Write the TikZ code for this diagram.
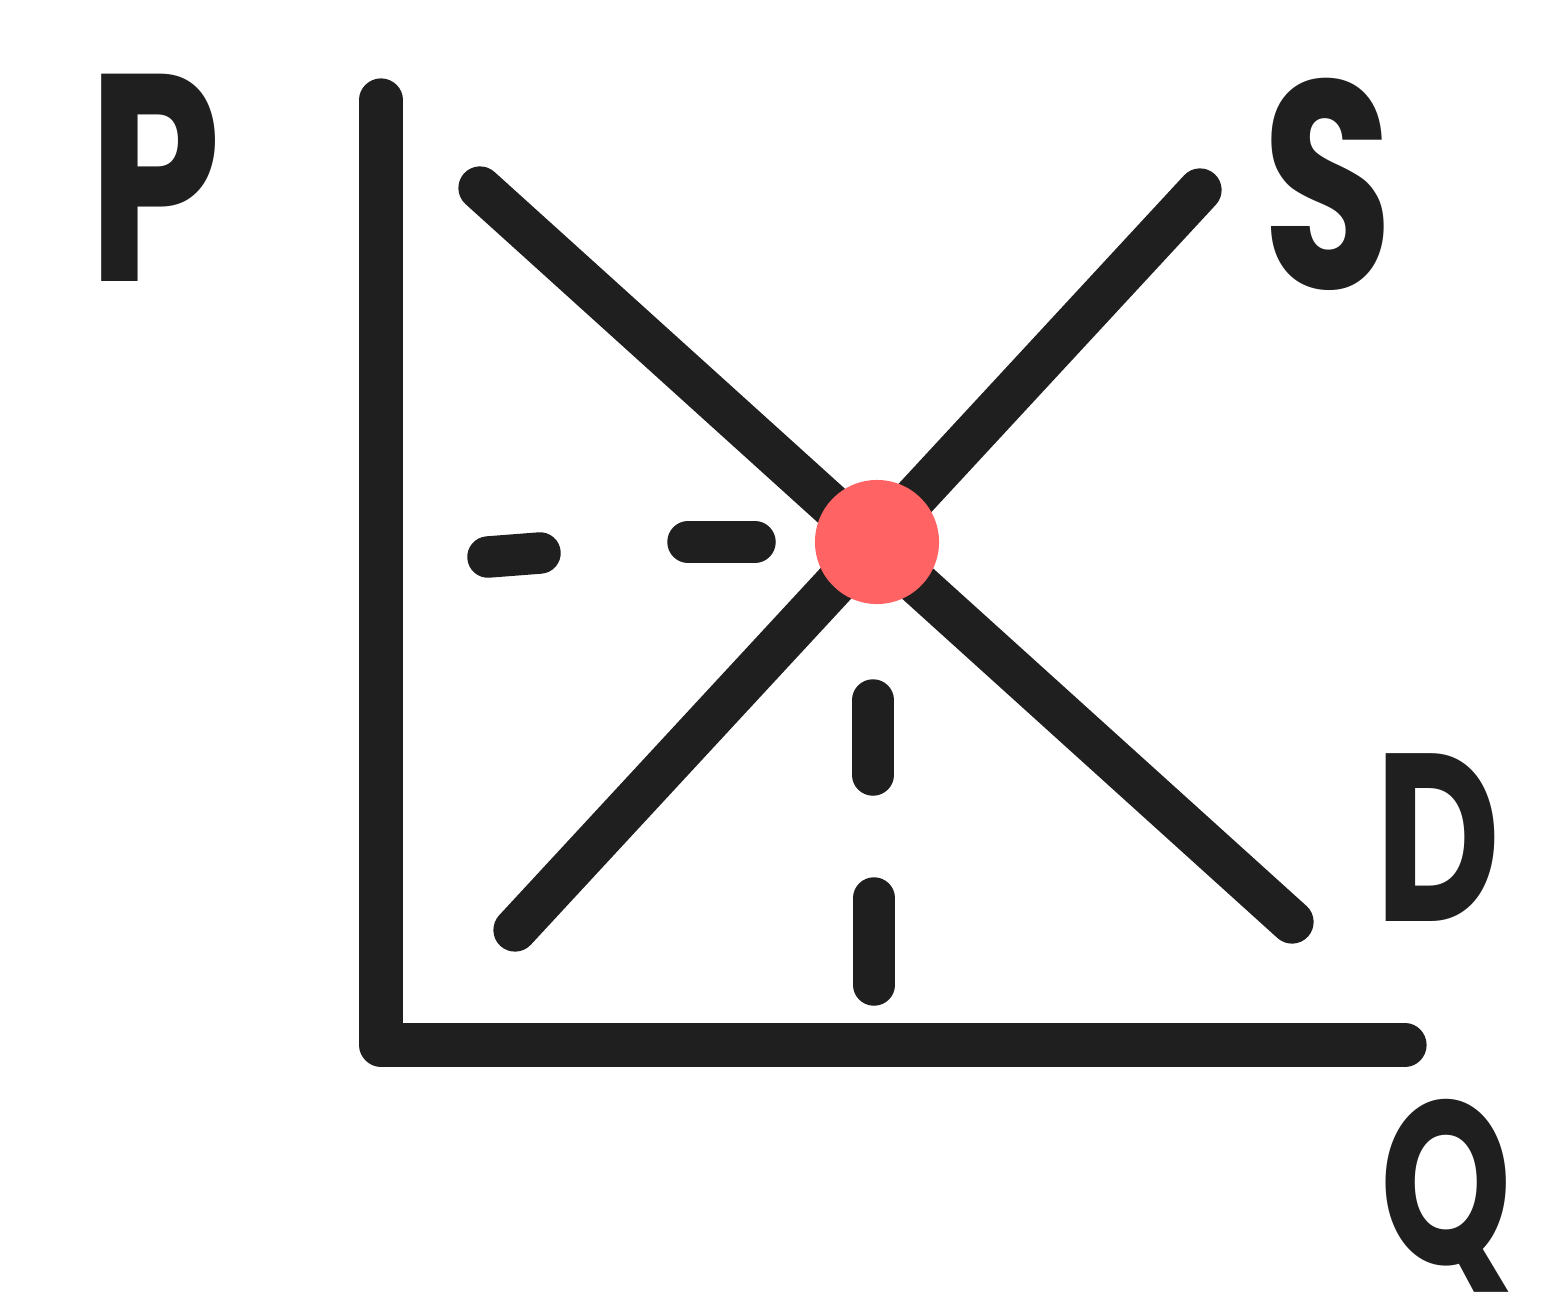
\documentclass[tikz,border=0pt]{standalone}
\usepackage{fontspec}
\setmainfont{Poppins}
\begin{document}
\begin{tikzpicture}[x=0.01cm,y=-0.01cm,
  ink/.style={draw=black!88,line width=12.3pt,line cap=round,line join=round},
  dashseg/.style={draw=black!88,line width=11.8pt,line cap=round},
  letter/.style={text=black!88,inner sep=0pt,font=\bfseries\fontsize{84}{84}\selectfont,xscale=0.72,transform shape}]
\useasboundingbox (0,0) rectangle (1545,1312);
% axes
\coordinate (ytop) at (381,100);
\coordinate (origin) at (381,1045);
\coordinate (xend) at (1405,1045);
\draw[ink] (ytop) -- (origin) -- (xend);
% demand and supply
\coordinate (d1) at (480,188);
\coordinate (d2) at (1292,922);
\coordinate (s1) at (515,930);
\coordinate (s2) at (1200,190);
\draw[ink] (d1) -- (d2);
\draw[ink] (s1) -- (s2);
% dashes
\coordinate (h1a) at (488,557); \coordinate (h1b) at (540,553);
\coordinate (h2a) at (688,542); \coordinate (h2b) at (755,542);
\coordinate (v1a) at (873,700); \coordinate (v1b) at (873,775);
\coordinate (v2a) at (874,898); \coordinate (v2b) at (874,985);
\draw[dashseg] (h1a) -- (h1b);
\draw[dashseg] (h2a) -- (h2b);
\draw[dashseg] (v1a) -- (v1b);
\draw[dashseg] (v2a) -- (v2b);
% equilibrium
\node[circle,fill={rgb,255:red,255;green,99;blue,99},minimum size=1.24cm,inner sep=0pt] (eq) at (877,542) {};
% labels
\node[letter] (P) at (155,178) {P};
\node[letter] (S) at (1328,184) {S};
\node[letter,font=\bfseries\fontsize{68}{68}\selectfont] (D) at (1438,838) {D};
\node[letter,font=\bfseries\fontsize{66}{66}\selectfont] (Q) at (1446,1196) {Q};
\end{tikzpicture}
\end{document}
